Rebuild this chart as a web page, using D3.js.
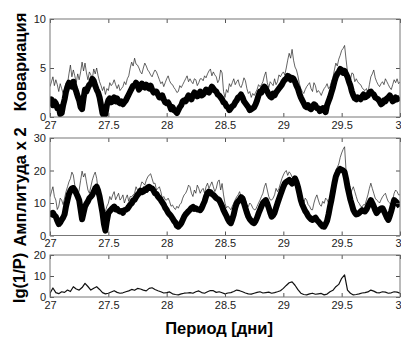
<!DOCTYPE html>
<html><head><meta charset="utf-8">
<script src="https://cdn.jsdelivr.net/npm/d3@7"></script>
<style>
html,body{margin:0;padding:0;background:#fff;overflow:hidden;}
svg{display:block;}
.tick text{font-family:"Liberation Sans",Arial,sans-serif;font-size:11px;fill:#222;}
.tick line{stroke:#555;}
</style></head>
<body>
<svg id="chart" width="401" height="340"></svg>
<script>
const periodStart = 27, periodEnd = 30;
const xTicks = [27, 27.5, 28, 28.5, 29, 29.5, 30];
const xTickLabels = ["27", "27.5", "28", "28.5", "29", "29.5", "3"];

const covTicks = [0, 5, 10];
const ampTicks = [0, 10, 20, 30];
const lgTicks = [0, 10, 20];

const covThin = [
3.1,3.6,4.1,3.2,3.8,3.3,2.6,3.4,2.9,2.4,2.8,3.5,3.4,4.4,5.3,4.1,4.8,4.2,3.5,4.4,3.8,4.6,5.6,4.7,5.5,4.5,3.8,4.6,4.3,3.9,4.9,4.4,5.0,4.2,3.6,3.2,2.7,3.1,2.3,2.9,
2.7,3.5,3.2,3.4,3.8,3.3,2.9,3.3,2.7,2.9,3.1,3.6,3.3,3.9,4.2,5.0,5.6,5.2,6.0,5.4,5.3,5.0,4.6,4.4,5.0,5.5,5.2,4.8,4.6,4.3,4.1,4.5,4.8,4.6,4.2,3.8,3.4,3.6,3.1,3.5,
3.9,4.2,3.7,3.4,3.3,3.0,2.8,2.5,2.6,3.2,3.0,3.3,3.6,3.9,4.2,3.6,3.9,3.6,3.4,3.9,3.8,3.2,3.5,3.9,3.9,3.7,4.2,4.0,4.4,4.7,4.9,4.2,4.6,4.3,4.1,3.5,3.8,4.8,4.5,2.6,
2.0,2.8,2.5,3.4,3.1,3.5,3.9,3.3,3.6,3.8,3.2,3.0,3.4,4.0,3.7,2.9,2.4,2.6,2.0,2.4,2.2,2.5,2.8,3.3,3.1,3.3,3.6,4.2,4.6,3.5,3.0,3.6,3.4,3.2,3.9,3.3,3.6,4.3,4.1,4.4,
4.6,4.3,5.0,5.8,6.5,6.0,6.9,5.8,5.1,4.8,4.2,3.4,2.9,2.6,2.4,2.8,3.1,3.3,3.5,2.9,2.6,3.5,3.2,2.5,2.7,2.5,2.2,2.6,2.9,3.1,3.4,2.9,3.1,3.6,4.0,4.8,5.5,5.2,5.9,6.3,
6.8,7.0,7.3,5.9,4.6,4.2,3.8,4.5,4.4,3.6,3.9,3.6,3.4,3.3,3.0,2.8,2.7,2.9,2.4,3.3,4.1,4.4,4.8,4.0,3.6,3.3,3.1,3.4,3.6,3.3,3.9,3.6,3.3,3.0,2.8,3.3,3.8,3.5,3.9,3.4,3.6];

const covThick = [
1.5,1.8,1.2,1.6,1.4,0.9,1.0,0.3,0.4,1.2,1.8,2.6,3.1,3.5,3.4,3.1,3.6,3.0,2.6,2.1,1.7,1.0,0.8,1.9,2.8,2.6,3.0,3.3,3.4,3.9,3.7,3.2,2.8,2.5,2.0,1.2,0.4,0.1,0.3,1.2,
1.7,1.9,1.5,1.8,2.0,1.6,1.9,1.5,1.4,1.6,1.3,1.5,1.7,2.0,2.3,2.6,2.9,3.2,3.2,3.5,3.3,2.8,3.0,3.4,3.1,3.0,3.3,3.0,2.9,3.2,2.8,2.5,2.6,2.6,2.3,2.0,2.0,2.2,1.8,1.5,
1.4,1.5,1.2,0.8,1.0,0.7,0.6,0.4,0.7,1.0,1.2,1.6,1.7,1.6,1.9,2.2,2.0,1.8,2.2,2.5,2.4,2.1,2.3,2.6,2.2,2.3,2.5,2.8,2.6,2.5,2.8,3.1,2.9,2.7,2.6,2.3,2.2,2.0,1.8,1.5,
1.4,1.1,1.0,0.7,0.9,1.1,1.2,1.5,1.7,2.0,2.1,2.3,2.0,1.6,1.4,1.2,1.0,0.7,0.8,0.9,1.0,1.3,1.7,2.2,2.6,2.5,2.9,3.1,2.9,2.6,2.3,2.1,2.0,2.4,2.2,2.5,2.7,2.9,3.1,3.3,
3.6,3.8,3.9,4.2,4.1,3.8,4.0,3.9,3.6,3.2,2.9,2.4,2.0,1.7,1.4,1.1,1.0,1.2,0.9,0.8,1.0,1.3,1.2,0.9,0.9,0.6,0.8,0.9,0.7,0.5,1.2,1.6,2.0,2.5,3.0,3.6,4.1,4.4,4.6,4.9,
4.8,4.5,4.7,4.4,4.1,3.6,3.2,2.6,2.2,1.9,1.8,2.0,1.9,1.8,2.1,2.3,2.0,2.1,2.2,2.5,2.6,2.4,2.3,2.0,1.9,1.8,1.6,1.3,1.4,1.7,1.6,1.9,2.0,2.2,1.9,1.6,1.7,2.0,1.8,1.9,2.0];

const ampThin = [
11.9,13.5,15.0,12.0,10.9,8.0,9.0,11.5,10.9,9.5,11.5,13.5,15.0,16.5,17.5,19.5,18.6,15.5,13.0,12.0,14.0,17.0,19.8,18.0,19.1,16.5,14.0,13.0,15.0,17.0,18.5,19.5,17.6,14.0,12.0,10.0,8.9,7.0,7.5,9.0,
9.9,12.0,11.0,12.5,13.5,11.0,12.0,13.0,10.9,11.5,12.5,10.0,11.4,12.5,10.5,12.0,11.9,12.5,13.0,15.0,14.0,13.0,15.0,16.5,16.1,15.5,17.0,18.0,18.6,19.0,17.5,16.0,16.1,14.0,14.5,15.0,13.5,11.5,12.0,11.0,
10.9,11.5,10.5,9.0,9.4,8.5,8.0,9.0,8.4,9.5,10.0,11.5,12.5,13.0,14.0,15.5,15.0,13.0,12.0,14.0,13.0,15.5,14.5,13.0,14.0,14.5,13.0,15.0,16.1,14.5,15.5,16.5,15.0,13.5,14.5,16.5,17.1,14.0,16.0,12.5,
9.9,8.5,9.0,8.5,7.9,9.0,10.0,11.0,11.9,12.5,13.5,12.0,12.5,12.0,11.0,9.5,8.9,10.0,9.5,8.5,7.9,8.0,9.0,10.0,10.9,12.0,13.0,15.0,16.1,14.0,12.0,11.0,10.9,11.5,12.5,14.5,13.5,14.5,16.0,17.5,
18.6,19.5,20.0,18.5,19.6,19.0,18.0,17.5,17.1,15.0,13.5,12.5,11.9,10.5,10.0,11.5,10.9,9.5,9.0,8.0,7.9,10.0,11.5,12.5,10.9,9.5,9.0,10.5,9.9,11.5,11.0,10.0,9.9,12.0,14.0,17.5,20.2,21.0,22.0,24.0,
25.4,26.5,27.3,20.0,15.0,13.0,12.5,14.0,15.0,13.5,12.0,10.5,9.9,9.0,8.8,9.5,9.4,11.0,12.5,14.5,16.1,14.5,13.0,11.5,10.9,10.5,10.0,11.0,11.9,12.5,13.0,11.5,10.4,10.0,9.5,11.0,13.0,14.0,13.5,12.5,12.5];

const ampThick = [
5.8,6.8,7.0,6.2,5.8,4.5,3.5,4.0,4.8,5.5,6.5,9.0,10.9,12.8,13.8,14.5,14.6,14.0,13.0,12.0,10.9,8.0,5.0,7.0,8.9,9.8,10.5,11.5,11.9,12.5,13.5,14.5,15.0,13.8,12.0,9.5,6.9,3.5,1.5,4.5,
6.9,7.5,8.0,8.5,8.9,8.0,8.2,7.6,7.4,7.5,7.0,7.8,7.9,8.2,8.8,9.5,9.9,10.8,11.0,11.8,12.5,13.0,13.8,13.3,13.5,14.2,14.0,14.8,15.0,14.6,14.5,13.8,13.0,12.8,12.0,11.5,10.9,10.2,9.5,8.5,
7.9,7.0,6.5,6.0,5.3,4.5,4.0,3.0,2.7,3.2,3.8,4.8,5.8,6.5,7.0,7.5,7.9,8.5,8.8,8.2,8.4,8.0,8.0,7.8,8.4,9.5,10.5,12.0,13.0,13.5,13.3,12.8,12.5,12.0,11.5,11.2,10.9,10.0,9.0,7.8,
6.9,6.0,5.0,4.2,3.8,5.0,6.5,8.5,9.9,10.5,11.0,11.8,11.4,10.0,8.5,7.0,5.8,5.0,4.5,4.0,3.8,4.5,5.5,6.8,7.9,9.0,10.0,10.5,10.9,9.8,8.5,7.0,5.8,6.2,7.0,8.5,9.9,11.2,12.5,13.8,
15.0,16.0,16.5,16.8,17.1,16.5,16.0,16.8,17.6,16.5,15.0,13.0,10.9,9.5,8.5,7.5,6.9,6.0,5.5,5.0,4.8,5.2,5.5,4.8,4.3,3.8,3.2,2.8,2.7,3.5,4.5,6.5,8.9,11.0,13.5,16.0,18.1,19.2,20.0,20.5,
20.2,20.0,19.5,17.5,15.0,13.0,11.0,9.5,7.9,7.0,6.5,6.6,6.9,7.4,7.8,7.5,7.4,8.0,9.0,10.0,10.9,10.0,9.0,7.8,6.9,7.5,8.0,8.3,8.4,7.5,6.5,5.5,4.8,6.0,7.5,9.2,10.9,10.5,10.0,9.5,8.9];

// lg(1/P), sampled every 0.025 day
const lgP = [1.8,4.3,2.1,1.6,2.5,2.2,3.3,2.6,4.9,3.8,3.3,4.5,6.5,5.0,3.3,4.2,4.9,3.6,2.1,1.5,
1.8,2.4,3.0,2.2,1.8,2.0,2.5,2.9,3.6,3.2,4.1,3.8,3.3,2.9,4.1,4.4,3.6,3.0,2.5,1.9,
2.1,2.4,1.5,1.2,1.0,1.5,1.8,1.9,2.1,1.8,2.5,2.9,2.1,1.8,2.5,3.1,3.0,2.2,2.5,2.0,
1.5,1.9,2.1,2.6,3.3,3.0,2.5,1.9,1.5,1.4,1.8,2.2,2.5,1.9,2.1,2.3,1.8,2.1,2.5,3.0,
4.1,5.5,6.8,7.2,5.6,3.5,1.8,1.2,1.0,1.5,1.8,1.3,1.5,1.7,1.0,1.4,2.5,3.2,4.9,6.0,
8.9,10.5,3.3,1.8,1.0,1.2,1.5,1.9,2.1,2.4,3.3,2.8,2.1,2.0,2.5,2.3,1.8,2.0,2.5,2.3,1.8];

// ---- drawing ----
const svg = d3.select("#chart");
const x = d3.scaleLinear().domain([periodStart, periodEnd]).range([50, 400]);
const periodOf = (i, n) => periodStart + i * (periodEnd - periodStart) / (n - 1);

const panels = [
  {top: 19, bottom: 117, max: 10, ticks: covTicks, label: "Ковариация", lx: 26, ly: 62,
   series: [{v: covThin, w: 0.7, c: "#222"}, {v: covThick, w: 6, c: "#000"}]},
  {top: 138, bottom: 235.5, max: 30, ticks: ampTicks, label: "Амплитуда x 2", lx: 26, ly: 187,
   series: [{v: ampThin, w: 0.7, c: "#222"}, {v: ampThick, w: 6, c: "#000"}]},
  {top: 255, bottom: 297, max: 20, ticks: lgTicks, label: "lg(1/P)", lx: 25, ly: 278,
   series: [{v: lgP, w: 1.2, c: "#111"}]}
];

panels.forEach((p, k) => {
  const y = d3.scaleLinear().domain([0, p.max]).range([p.bottom, p.top]);
  const g = svg.append("g");
  const cid = "clip" + k;
  svg.append("clipPath").attr("id", cid).append("rect")
    .attr("x", 50).attr("y", p.top).attr("width", 350).attr("height", p.bottom - p.top);

  p.series.forEach(s => {
    const n = s.v.length;
    const line = d3.line().x((d, i) => x(periodOf(i, n))).y(d => y(d)).curve(d3.curveLinear);
    g.append("path").datum(s.v).attr("d", line).attr("fill", "none")
      .attr("stroke", s.c).attr("stroke-width", s.w).attr("stroke-linejoin", "round")
      .attr("clip-path", `url(#${cid})`);
  });

  const ax = svg.append("g");
  ax.append("g").attr("transform", `translate(0,${p.bottom})`)
    .call(d3.axisBottom(x).tickValues(xTicks).tickFormat((d, i) => xTickLabels[i]).tickSizeInner(-4).tickSizeOuter(0).tickPadding(4))
    .call(a => a.select(".domain").remove())
    .call(a => a.selectAll(".tick").filter(d => d === periodEnd).select("text")
      .attr("text-anchor", "end").attr("dx", 1));
  ax.append("g").attr("transform", `translate(0,${p.top})`)
    .call(d3.axisTop(x).tickValues(xTicks).tickFormat("").tickSizeInner(-4).tickSizeOuter(0))
    .call(a => a.select(".domain").remove());
  ax.append("g").attr("transform", `translate(50,0)`)
    .call(d3.axisLeft(y).tickValues(p.ticks).tickFormat(d3.format("d")).tickSizeInner(-4).tickSizeOuter(0).tickPadding(4))
    .call(a => a.select(".domain").remove());
  ax.append("g").attr("transform", `translate(400,0)`)
    .call(d3.axisRight(y).tickValues(p.ticks).tickFormat("").tickSizeInner(-4).tickSizeOuter(0))
    .call(a => a.select(".domain").remove());
  ax.append("rect").attr("x", 50).attr("y", p.top).attr("width", 350).attr("height", p.bottom - p.top)
    .attr("fill", "none").attr("stroke", "#777").attr("stroke-width", 1);

  svg.append("text").attr("transform", `translate(${p.lx},${p.ly}) rotate(-90)`)
    .attr("text-anchor", "middle").attr("font-family", "'Liberation Sans',Arial,sans-serif")
    .attr("font-weight", "bold").attr("font-size", 16.5).attr("fill", "#000").text(p.label);
});

svg.append("text").attr("x", 219).attr("y", 334).attr("text-anchor", "middle")
  .attr("font-family", "'Liberation Sans',Arial,sans-serif").attr("font-weight", "bold")
  .attr("font-size", 16.5).attr("fill", "#000").text("Период [дни]");
</script>
</body></html>
